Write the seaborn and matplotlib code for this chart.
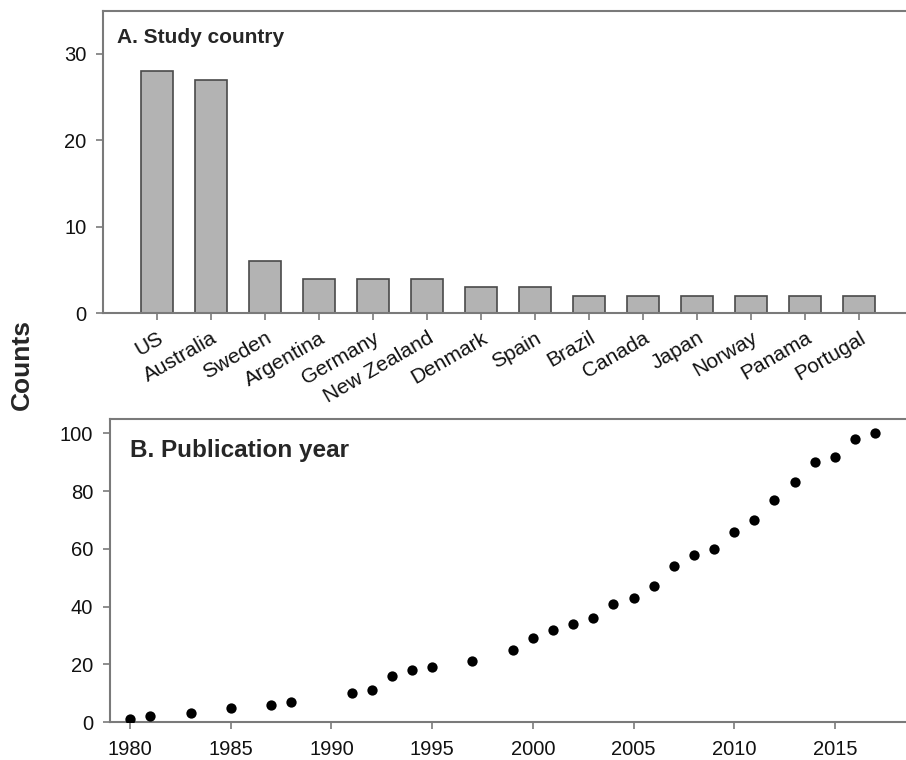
import matplotlib
matplotlib.use("Agg")
import matplotlib.pyplot as plt
import seaborn as sns
import pandas as pd

countries = ["US", "Australia", "Sweden", "Argentina", "Germany", "New Zealand",
             "Denmark", "Spain", "Brazil", "Canada", "Japan", "Norway", "Panama", "Portugal"]
country_counts = [28, 27, 6, 4, 4, 4, 3, 3, 2, 2, 2, 2, 2, 2]

years = [1980, 1981, 1983, 1985, 1987, 1988, 1991, 1992, 1993, 1994, 1995, 1997,
         1999, 2000, 2001, 2002, 2003, 2004, 2005, 2006, 2007, 2008, 2009, 2010,
         2011, 2012, 2013, 2014, 2015, 2016, 2017]
year_counts = [1, 2, 3, 5, 6, 7, 10, 11, 16, 18, 19, 21,
               25, 29, 32, 34, 36, 41, 43, 47, 54, 58, 60, 66,
               70, 77, 83, 90, 92, 98, 100]

year_ticks = [1980, 1985, 1990, 1995, 2000, 2005, 2010, 2015]
count_ticks_a = [0, 10, 20, 30]
count_ticks_b = [0, 20, 40, 60, 80, 100]

sns.set_theme(style="ticks")
plt.rcParams['font.family'] = ['Liberation Sans', 'DejaVu Sans']

spine_col = "#7a7a7a"
fig = plt.figure(figsize=(9.06, 7.6), dpi=100)

# Panel A
axA = fig.add_axes([0.1137, 0.588, 0.894, 0.398])
dfA = pd.DataFrame({"country": countries, "count": country_counts})
sns.barplot(data=dfA, x="country", y="count", order=countries, color="#b3b3b3",
            saturation=1, width=0.61, edgecolor="#4a4a4a", linewidth=1.2, ax=axA)
axA.set_xlim(-1, 14)
axA.set_ylim(0, 35)
axA.set_yticks(count_ticks_a)
axA.set_xlabel("")
axA.set_ylabel("")
axA.set_xticks(range(len(countries)))
axA.set_xticklabels(countries, rotation=30, ha="right", rotation_mode="anchor")
axA.text(0.017, 0.893, "A. Study country", transform=axA.transAxes,
         fontsize=15, fontweight="bold", va="baseline", ha="left")

# Panel B
axB = fig.add_axes([0.1214, 0.05, 0.889, 0.3987])
dfB = pd.DataFrame({"year": years, "count": year_counts})
sns.scatterplot(data=dfB, x="year", y="count", color="black", s=55,
                edgecolor="black", linewidth=0, ax=axB, zorder=3)
axB.set_xlim(1979, 2019)
axB.set_ylim(0, 105)
axB.set_xticks(year_ticks)
axB.set_yticks(count_ticks_b)
axB.set_xlabel("")
axB.set_ylabel("")
axB.text(0.025, 0.874, "B. Publication year", transform=axB.transAxes,
         fontsize=17.5, fontweight="bold", va="baseline", ha="left")

for ax in (axA, axB):
    for side in ("left", "top", "bottom", "right"):
        ax.spines[side].set_color(spine_col)
        ax.spines[side].set_linewidth(1.5)
    ax.tick_params(axis="both", direction="out", length=5, width=1.2,
                   color=spine_col, labelsize=14.5, labelcolor="#111111", pad=7)
axA.tick_params(axis="x", labelsize=15, pad=6)
axB.tick_params(axis="x", pad=8)

fig.text(0.024, 0.52, "Counts", rotation=90, fontsize=19, fontweight="bold",
         ha="center", va="center")

fig.savefig("out.png", dpi=100)
